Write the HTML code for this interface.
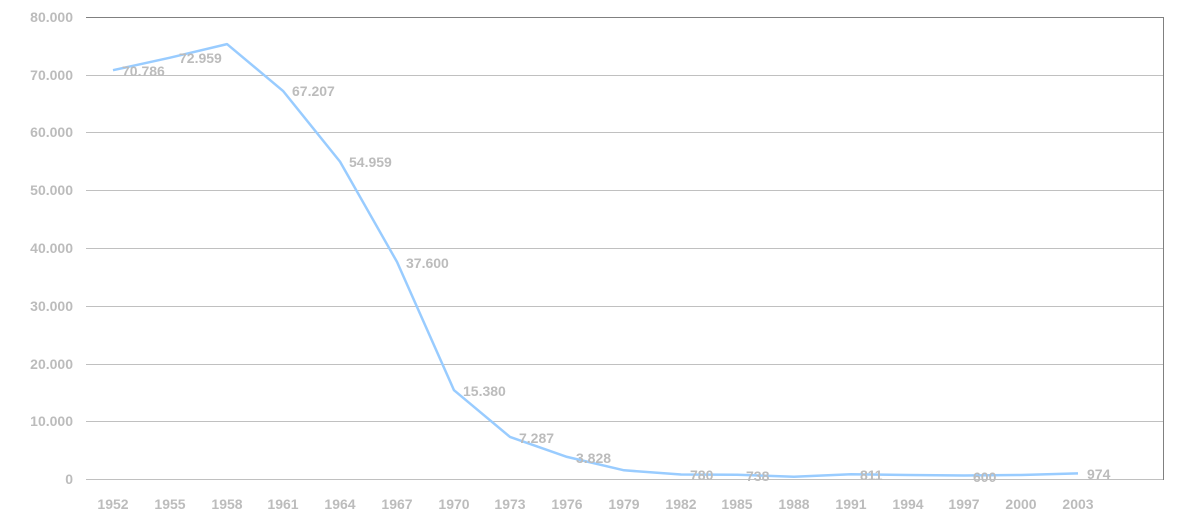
<!DOCTYPE html>
<html><head><meta charset="utf-8"><style>
html,body{margin:0;padding:0;background:#fff;}
svg text{font-family:"Liberation Sans",Arial,sans-serif;font-weight:bold;font-size:14px;fill:#bcbcbc;}
</style></head><body>
<svg width="1200" height="522" xmlns="http://www.w3.org/2000/svg">
<g stroke="#c0c0c0" stroke-width="1">
<line x1="86" y1="75.5" x2="1163" y2="75.5"/>
<line x1="86" y1="132.5" x2="1163" y2="132.5"/>
<line x1="86" y1="190.5" x2="1163" y2="190.5"/>
<line x1="86" y1="248.5" x2="1163" y2="248.5"/>
<line x1="86" y1="306.5" x2="1163" y2="306.5"/>
<line x1="86" y1="364.5" x2="1163" y2="364.5"/>
<line x1="86" y1="421.5" x2="1163" y2="421.5"/>
<line x1="86" y1="479.5" x2="1163" y2="479.5"/>
</g>
<line x1="86" y1="17.5" x2="1163.5" y2="17.5" stroke="#808080"/>
<line x1="1163.5" y1="17" x2="1163.5" y2="480" stroke="#808080"/>
<g text-anchor="end">
<text x="73" y="22">80.000</text>
<text x="73" y="80">70.000</text>
<text x="73" y="137">60.000</text>
<text x="73" y="195">50.000</text>
<text x="73" y="253">40.000</text>
<text x="73" y="311">30.000</text>
<text x="73" y="369">20.000</text>
<text x="73" y="426">10.000</text>
<text x="73" y="484">0</text>
</g>
<g text-anchor="middle">
<text x="113" y="509">1952</text><text x="170" y="509">1955</text><text x="227" y="509">1958</text>
<text x="283" y="509">1961</text><text x="340" y="509">1964</text><text x="397" y="509">1967</text>
<text x="454" y="509">1970</text><text x="510" y="509">1973</text><text x="567" y="509">1976</text>
<text x="624" y="509">1979</text><text x="681" y="509">1982</text><text x="737" y="509">1985</text>
<text x="794" y="509">1988</text><text x="851" y="509">1991</text><text x="908" y="509">1994</text>
<text x="964" y="509">1997</text><text x="1021" y="509">2000</text><text x="1078" y="509">2003</text>
</g>
<polyline fill="none" stroke="#99ccff" stroke-width="2.5" stroke-linejoin="round"
points="113,70.2 170,57.7 227,44.1 283,90.9 340,161.6 397,261.9 454,390.2 510,436.9 567,456.9 624,470.3 681,474.5 737,474.7 794,476.7 851,474.3 908,475 964,475.5 1021,475 1078,473.4"/>
<text x="122" y="76">70.786</text>
<text x="179" y="63">72.959</text>
<text x="292" y="96">67.207</text>
<text x="349" y="167">54.959</text>
<text x="406" y="268">37.600</text>
<text x="463" y="396">15.380</text>
<text x="519" y="443">7.287</text>
<text x="576" y="463">3.828</text>
<text x="690" y="480">780</text>
<text x="746" y="481">738</text>
<text x="860" y="480">811</text>
<text x="973" y="482">600</text>
<text x="1087" y="479">974</text>
</svg>
</body></html>
